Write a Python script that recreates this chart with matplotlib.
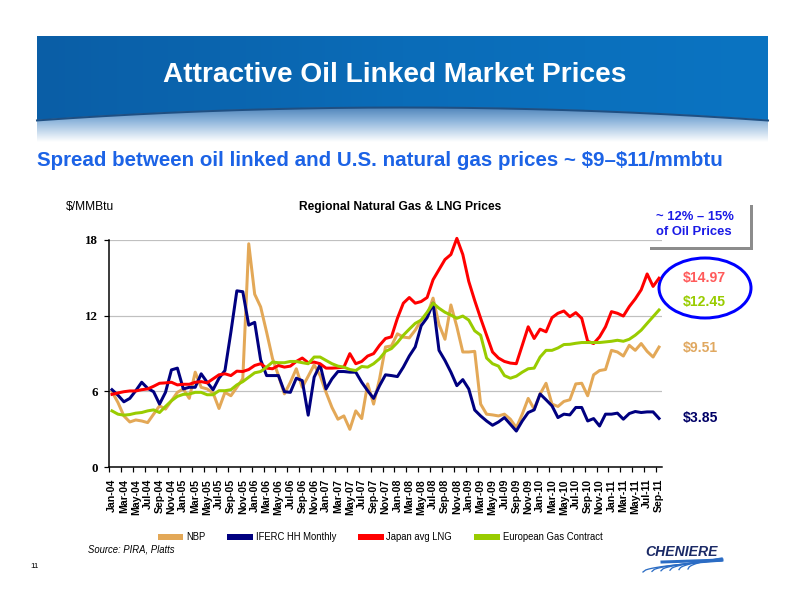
import numpy as np
import pandas as pd
import matplotlib
matplotlib.use("Agg")
import matplotlib.pyplot as plt
from matplotlib import font_manager
from matplotlib.patches import Polygon, Ellipse
from matplotlib.colors import LinearSegmentedColormap
from matplotlib.lines import Line2D

# monthly data Jan-04 .. Sep-11, $/MMBtu
months = list(pd.date_range("2004-01-01", periods=93, freq="MS").strftime("%b-%y"))

nbp = [5.97, 5.12, 4.05, 3.57, 3.73, 3.65, 3.52, 4.19, 4.85, 4.59,
       5.25, 5.92, 6.19, 5.44, 7.52, 6.32, 6.19, 5.87, 4.64, 5.92,
       5.65, 6.32, 7.0, 17.7, 13.7, 12.7, 10.7, 8.6, 7.25, 5.8,
       6.72, 7.79, 6.32, 7.2, 8.1, 7.25, 5.92, 4.72, 3.79, 4.05,
       2.99, 4.45, 3.84, 6.59, 4.99, 6.99, 9.52, 9.6, 10.56, 10.3,
       10.24, 10.85, 11.65, 12.05, 13.39, 11.3, 10.13, 12.85, 11.12, 9.12,
       9.12, 9.17, 4.99, 4.19, 4.13, 4.05, 4.19, 3.79, 3.12, 4.19,
       5.44, 4.59, 5.79, 6.64, 4.99, 4.8, 5.2, 5.33, 6.59, 6.64,
       5.65, 7.31, 7.65, 7.73, 9.25, 9.12, 8.8, 9.65, 9.25, 9.79,
       9.17, 8.72, 9.51]

iferc = [6.13, 5.7, 5.17, 5.44, 6.05, 6.72, 6.24, 5.97, 4.99, 5.92,
         7.7, 7.84, 6.19, 6.32, 6.32, 7.39, 6.72, 6.13, 7.04, 7.65,
         10.7, 13.97, 13.9, 11.25, 11.47, 8.5, 7.25, 7.25, 7.25, 5.97,
         5.92, 7.04, 6.85, 4.11, 7.12, 8.11, 6.19, 6.99, 7.57, 7.57,
         7.52, 7.52, 6.72, 6.05, 5.44, 6.45, 7.31, 7.25, 7.17, 7.92,
         8.8, 9.52, 11.2, 11.84, 12.99, 9.25, 8.45, 7.52, 6.45, 6.93,
         6.19, 4.52, 4.05, 3.65, 3.31, 3.57, 3.92, 3.39, 2.85, 3.65,
         4.32, 4.53, 5.79, 5.33, 4.85, 3.92, 4.19, 4.13, 4.72, 4.72,
         3.65, 3.84, 3.25, 4.19, 4.19, 4.27, 3.79, 4.24, 4.4, 4.32,
         4.37, 4.37, 3.85]

japan = [5.76, 5.87, 5.97, 6.03, 6.03, 6.13, 6.19, 6.4, 6.64, 6.67,
         6.72, 6.51, 6.56, 6.56, 6.72, 6.77, 6.67, 6.99, 7.31, 7.39,
         7.25, 7.6, 7.57, 7.73, 8.05, 8.19, 7.84, 7.79, 8.05, 7.92,
         8.0, 8.37, 8.64, 8.27, 8.32, 8.19, 7.84, 7.84, 7.87, 7.92,
         8.99, 8.19, 8.37, 8.8, 8.99, 9.65, 10.19, 10.32, 11.79, 12.99,
         13.44, 12.99, 13.12, 13.44, 14.85, 15.65, 16.45, 16.85, 18.13, 16.85,
         14.72, 13.2, 11.79, 10.45, 9.12, 8.64, 8.37, 8.24, 8.19, 9.65,
         11.12, 10.19, 10.93, 10.72, 11.84, 12.19, 12.37, 11.92, 12.24, 11.79,
         9.97, 9.79, 10.32, 11.12, 12.32, 12.19, 11.97, 12.72, 13.33, 14.05,
         15.31, 14.32, 14.97]

euro = [4.45, 4.19, 4.11, 4.16, 4.27, 4.32, 4.45, 4.53, 4.32, 4.8,
        5.25, 5.6, 5.76, 5.79, 5.92, 5.92, 5.73, 5.73, 6.05, 6.05,
        6.13, 6.51, 6.77, 7.12, 7.47, 7.57, 7.92, 8.32, 8.27, 8.27,
        8.37, 8.37, 8.27, 8.19, 8.72, 8.72, 8.45, 8.19, 8.0, 7.92,
        7.73, 7.65, 7.97, 7.92, 8.19, 8.59, 9.17, 9.39, 9.87, 10.45,
        10.93, 11.39, 11.65, 12.27, 12.99, 12.59, 12.27, 12.05, 11.79, 11.97,
        11.65, 10.8, 10.45, 8.64, 8.19, 8.0, 7.25, 7.04, 7.2, 7.52,
        7.79, 7.84, 8.72, 9.25, 9.25, 9.44, 9.71, 9.73, 9.81, 9.87,
        9.87, 9.87, 9.87, 9.92, 9.97, 10.05, 9.97, 10.13, 10.45, 10.85,
        11.39, 11.92, 12.45]

series_names = ["NBP", "IFERC HH Monthly", "Japan avg LNG", "European Gas Contract"]
series_colors = ["#e3a857", "#000080", "#ff0000", "#99cc00"]
last_labels = ["$9.51", "$3.85", "$14.97", "$12.45"]

plt.rcParams["font.family"] = "Liberation Sans"
names = {f.name for f in font_manager.fontManager.ttflist}
narrow = "Liberation Sans Narrow" if "Liberation Sans Narrow" in names else "Liberation Sans"

W, H = 792, 612
fig = plt.figure(figsize=(W / 72, H / 72), dpi=72)

# background layer in pixel coords (y down)
bg = fig.add_axes([0, 0, 1, 1])
bg.set_xlim(0, W)
bg.set_ylim(H, 0)
bg.axis("off")

# banner
xs = np.linspace(37, 768, 200)
curve = 107 + 13 * ((xs - 402) / 366) ** 2
fade = LinearSegmentedColormap.from_list("fade", ["#2d6aa8", "#8fb6dc", "#ffffff"])
bg.imshow(np.linspace(0, 1, 256).reshape(-1, 1), cmap=fade, aspect="auto",
          extent=[37, 768, 142, 100], zorder=1)
blue = LinearSegmentedColormap.from_list("blue", ["#0a5ea6", "#0b6cb8", "#0a74c2"])
poly = Polygon(np.vstack([[[37, 36], [768, 36]], np.column_stack([xs[::-1], curve[::-1]])]),
               closed=True, facecolor="none", edgecolor="none", transform=bg.transData)
bg.add_patch(poly)
im = bg.imshow(np.linspace(0, 1, 256).reshape(1, -1), cmap=blue, aspect="auto",
               extent=[37, 768, 122, 36], zorder=2)
im.set_clip_path(poly)
bg.plot(xs, curve + 0.5, color="#1f4f82", lw=2, zorder=3)
bg.set_xlim(0, W)
bg.set_ylim(H, 0)

bg.text(395, 75, "Attractive Oil Linked Market Prices", color="white", fontsize=28,
        fontweight="bold", ha="center", va="center", family=narrow, zorder=4)
bg.text(37, 160, "Spread between oil linked and U.S. natural gas prices ~ \\$9\u2013\\$11/mmbtu",
        color="#1c63e6", fontsize=20.5, fontweight="bold", ha="left", va="center")

bg.text(66, 207, "\\$/MMBtu", fontsize=12, ha="left", va="center")
bg.text(400, 207, "Regional Natural Gas & LNG Prices", fontsize=12, fontweight="bold",
        ha="center", va="center")

# annotation box (shadow only on right/bottom)
bg.plot([751, 751, 651], [206, 248, 248], color="#8c8c8c", lw=3, solid_joinstyle="miter")
bg.text(656, 217, "~ 12% \u2013 15%", color="#1a1ae6", fontsize=13, fontweight="bold",
        ha="left", va="center")
bg.text(656, 232, "of Oil Prices", color="#1a1ae6", fontsize=13, fontweight="bold",
        ha="left", va="center")
bg.add_patch(Ellipse((705, 288), 92, 60, fill=False, edgecolor="#0000ff", lw=3))

label_y = {"$14.97": 278, "$12.45": 302, "$9.51": 348, "$3.85": 418}
label_col = {"$14.97": "#ff5a5a", "$12.45": "#99cc00", "$9.51": "#e0a860", "$3.85": "#000066"}
for lab in last_labels:
    bg.text(683, label_y[lab], lab.replace("$", "\\$"), color=label_col[lab], fontsize=14,
            fontweight="bold", ha="left", va="center")

bg.text(88, 549, "Source: PIRA, Platts", fontsize=9.5, style="italic", family=narrow,
        ha="left", va="center")
bg.text(30, 566, "11", fontsize=8, ha="left", va="center")

# logo
bg.text(682, 552, "CHENIERE", fontsize=14, fontweight="bold", style="italic",
        color="#1b2a66", ha="center", va="center", family=narrow)
for k in range(6):
    t = np.linspace(0, 1, 30)
    lx = 643 + k * 9 + t * (722 - 643 - k * 9)
    ly = 572 - k * 0.6 - (572 - 561) * np.sqrt(t)
    bg.plot(lx, ly, color="#2b6cc4", lw=1.3)
bg.plot([662, 722], [562, 560], color="#2b6cc4", lw=3)

# chart
ax = fig.add_axes([109 / W, 1 - 467 / H, (662 - 109) / W, (467 - 240) / H])
ax.set_facecolor("none")
x = np.arange(len(months))
for vals, name, col in zip([nbp, iferc, japan, euro], series_names, series_colors):
    ax.plot(x, vals, color=col, lw=3, label=name, clip_on=False)

ax.set_xlim(-0.5, 92.5)
ax.set_ylim(0, 18)
ax.set_yticks([0, 6, 12, 18])
ax.set_yticklabels(["0", "6", "12", "18"], fontsize=13, fontweight="bold", family="Liberation Serif")
ax.yaxis.grid(True, color="#c0c0c0", lw=1.2)
ax.set_axisbelow(True)
ax.tick_params(axis="y", length=5, width=1.2, pad=6)

ax.set_xticks(np.arange(-0.5, 92, 2))
ax.set_xticks(x[::2], minor=True)
ax.set_xticklabels(months[::2], minor=True, rotation=90, fontsize=10.5, fontweight="bold")
ax.tick_params(axis="x", which="major", length=5, width=1.2, labelbottom=False)
ax.tick_params(axis="x", which="minor", length=0, pad=12)

for s in ["top", "right"]:
    ax.spines[s].set_visible(False)
for s in ["left", "bottom"]:
    ax.spines[s].set_linewidth(1.5)

handles = [Line2D([], [], color=c, lw=6, solid_capstyle="butt") for c in series_colors]
fig.legend(handles, series_names, loc="center", bbox_to_anchor=(380 / W, 1 - 537 / H),
           ncol=4, frameon=False, handlelength=2.7, handletextpad=0.3, columnspacing=2.3,
           prop={"family": narrow, "size": 9.5})

fig.savefig("out.png", dpi=72)
